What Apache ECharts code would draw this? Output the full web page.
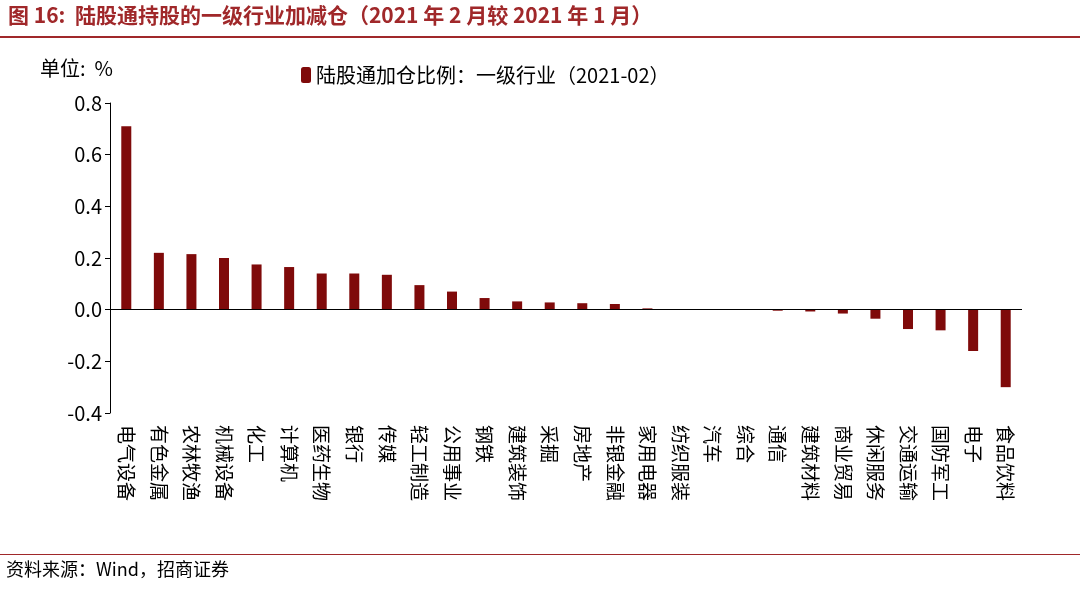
<!DOCTYPE html>
<html><head><meta charset="utf-8">
<script src="https://cdn.jsdelivr.net/npm/echarts@6/dist/echarts.min.js"></script>
<style>body{margin:0;background:#fff}#c{width:1080px;height:592px}</style>
</head><body><div id="c"></div>
<script>
const categories = ['电气设备','有色金属','农林牧渔','机械设备','化工','计算机','医药生物','银行','传媒','轻工制造','公用事业','钢铁','建筑装饰','采掘','房地产','非银金融','家用电器','纺织服装','汽车','综合','通信','建筑材料','商业贸易','休闲服务','交通运输','国防军工','电子','食品饮料'];
const values = [0.71,0.22,0.215,0.20,0.175,0.165,0.14,0.14,0.135,0.095,0.07,0.045,0.032,0.028,0.025,0.022,0.005,0.002,0.001,0.0,-0.004,-0.007,-0.015,-0.035,-0.075,-0.08,-0.16,-0.30];
const font = '"Noto Sans CJK SC", sans-serif';
let chart = echarts.init(document.getElementById('c'));
chart.setOption({
  animation: false,
  textStyle: {fontFamily: font},
  graphic: [
    {type: 'text', left: 8, top: 5, style: {text: '图 16:  陆股通持股的一级行业加减仓（2021 年 2 月较 2021 年 1 月）', font: 'bold 21px ' + font, fill: '#A0282A'}},
    {type: 'rect', shape: {x: 0, y: 36, width: 1080, height: 2}, style: {fill: '#A0282A'}},
    {type: 'text', left: 40, top: 58, style: {text: '单位:  %', font: '20px ' + font, fill: '#000'}},
    {type: 'rect', shape: {x: 0, y: 554, width: 1080, height: 1}, style: {fill: '#A0282A'}},
    {type: 'text', left: 6, top: 560, style: {text: '资料来源：Wind，招商证券', font: '18px ' + font, fill: '#000'}}
  ],
  legend: {top: 60, left: 296, itemWidth: 10, itemHeight: 16, textStyle: {fontSize: 20, color: '#000'}, data: ['陆股通加仓比例：一级行业（2021-02）']},
  grid: {left: 110, right: 58, top: 103, bottom: 179},
  xAxis: {
    type: 'category', data: categories,
    axisLine: {show: false, onZero: false}, axisTick: {show: false},
    axisLabel: {interval: 0, fontSize: 19, color: '#000', rotate: -90, margin: 12}
  },
  yAxis: {
    type: 'value', min: -0.4, max: 0.8, interval: 0.2,
    axisLine: {show: true, lineStyle: {color: '#000'}}, axisTick: {show: true, lineStyle: {color: '#000'}},
    splitLine: {show: false},
    axisLabel: {fontSize: 20, color: '#000', formatter: v => v.toFixed(1)}
  },
  series: [{
    name: '陆股通加仓比例：一级行业（2021-02）', type: 'bar', data: values, barWidth: 10,
    itemStyle: {color: '#7F0A0A'},
    markLine: {silent: true, symbol: 'none', label: {show: false}, lineStyle: {color: '#000', type: 'solid', width: 1}, data: [{yAxis: 0}]}
  }]
});
</script></body></html>
